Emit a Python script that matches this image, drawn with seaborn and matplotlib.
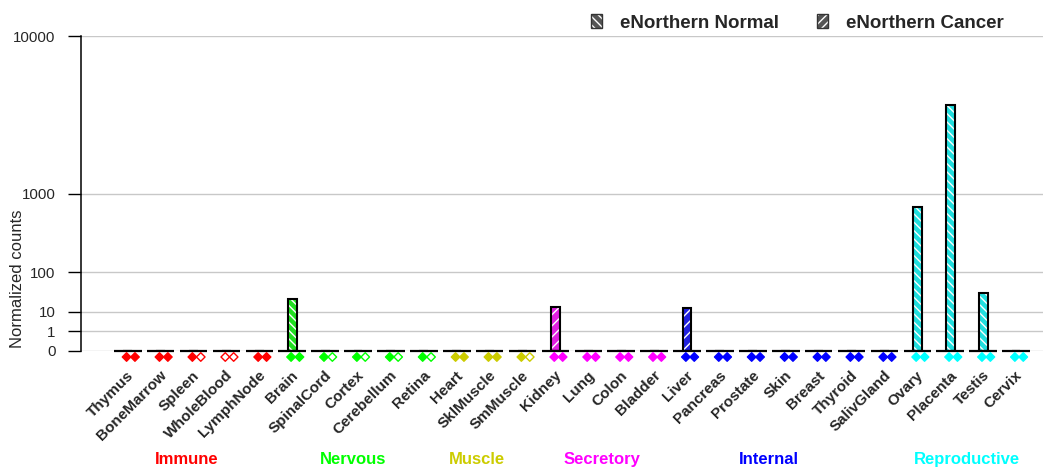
import numpy as np
import matplotlib
matplotlib.use("Agg")
import matplotlib.pyplot as plt
import seaborn as sns
from matplotlib.patches import Patch
from matplotlib.legend_handler import HandlerTuple
from matplotlib import transforms as mtransforms

# ---------------- data ----------------
tissues = ["Thymus", "BoneMarrow", "Spleen", "WholeBlood", "LymphNode",
           "Brain", "SpinalCord", "Cortex", "Cerebellum", "Retina",
           "Heart", "SklMuscle", "SmMuscle",
           "Kidney", "Lung", "Colon", "Bladder",
           "Liver", "Pancreas", "Prostate", "Skin", "Breast", "Thyroid", "SalivGland",
           "Ovary", "Placenta", "Testis", "Cervix"]
group_names = ["Immune", "Nervous", "Muscle", "Secretory", "Internal", "Reproductive"]
group_sizes = [5, 5, 3, 4, 7, 4]
group_colors = ["#FF0000", "#00FF00", "#CCCC00", "#FF00FF", "#0000FF", "#00FFFF"]

normal_counts = [0, 0, 0, 0, 0,
                 26, 0, 0, 0, 0,
                 0, 0, 0,
                 0, 0, 0, 0,
                 0, 0, 0, 0, 0, 0, 0,
                 750, 4400, 36, 0]
cancer_counts = [0, 0, 0, 0, 0,
                 0, 0, 0, 0, 0,
                 0, 0, 0,
                 14, 0, 0, 0,
                 13, 0, 0, 0, 0, 0, 0,
                 0, 0, 0, 0]
# detection markers (1 = filled diamond, 0 = hollow)
normal_detected = [1, 1, 1, 0, 1,
                   1, 1, 1, 1, 1,
                   1, 1, 1,
                   1, 1, 1, 1,
                   1, 1, 1, 1, 1, 1, 1,
                   1, 1, 1, 1]
cancer_detected = [1, 1, 0, 0, 1,
                   1, 0, 0, 0, 0,
                   1, 1, 0,
                   1, 1, 1, 1,
                   1, 1, 1, 1, 1, 1, 1,
                   1, 1, 1, 1]
y_ticks = [0, 1, 10, 100, 1000, 10000]
y_tick_labels = ["0", "1", "10", "100", "1000", "10000"]

# ---------------- layout ----------------
group_label_x = [1.79, 6.85, 10.6, 14.4, 19.49, 25.52]

tissue_colors = []
for c, s in zip(group_colors, group_sizes):
    tissue_colors += [c] * s
palette = dict(zip(tissues, tissue_colors))
n = len(tissues)

sns.set_style("white")
plt.rcParams["font.family"] = ["Liberation Sans", "DejaVu Sans"]
plt.rcParams["hatch.linewidth"] = 1.0
plt.rcParams["hatch.color"] = "white"


def white_hatch(patch):
    patch._hatch_color = (1.0, 1.0, 1.0, 1.0)
    patch.stale = True


fig = plt.figure(figsize=(10.43, 4.68), dpi=100)
ax = fig.add_axes([81 / 1043, (468 - 351) / 468, (1043 - 81) / 1043, 315 / 468])

p = np.log10(2)
def fwd(v):
    v = np.asarray(v, dtype=float)
    return np.sign(v) * np.abs(v) ** p
def inv(v):
    v = np.asarray(v, dtype=float)
    return np.sign(v) * np.abs(v) ** (1 / p)

ax.set_yscale("function", functions=(fwd, inv))

# hatched fills
sns.barplot(x=tissues, y=normal_counts, hue=tissues, palette=palette, order=tissues,
            legend=False, width=0.27, hatch="\\\\\\\\", edgecolor="white", linewidth=0,
            ax=ax, zorder=3)
sns.barplot(x=tissues, y=cancer_counts, hue=tissues, palette=palette, order=tissues,
            legend=False, width=0.27, hatch="///", edgecolor="white", linewidth=0,
            ax=ax, zorder=3)
for patch in list(ax.patches):
    white_hatch(patch)
# outlines
for vals in (normal_counts, cancer_counts):
    sns.barplot(x=tissues, y=vals, order=tissues, width=0.27, facecolor="none",
                edgecolor="black", linewidth=1.5, ax=ax, zorder=4)

# baseline segments per category
for i in range(n):
    ax.hlines(0, i - 0.42, i + 0.42, color="black", lw=1.6, zorder=4, clip_on=False)

# detection diamonds under the axis
trans = mtransforms.blended_transform_factory(ax.transData, ax.transAxes)
xs = np.arange(n)
for flags, off in ((normal_detected, -0.035), (cancer_detected, 0.22)):
    faces = [c if f else "white" for c, f in zip(tissue_colors, flags)]
    ax.scatter(xs + off, np.full(n, -0.019), s=19, marker="D", facecolors=faces,
               edgecolors=tissue_colors, linewidths=1.0, transform=trans,
               clip_on=False, zorder=6)

ax.set_xlim(-1.42, 27.82)
ax.set_ylim(0, 10000)
ax.set_yticks(y_ticks)
ax.set_yticklabels(y_tick_labels, fontsize=10.8)
ax.yaxis.set_minor_locator(matplotlib.ticker.NullLocator())
ax.grid(False)
ax.yaxis.grid(True, color="#C8C8C8", lw=1.0)
ax.set_axisbelow(True)
for s in ("top", "right", "bottom"):
    ax.spines[s].set_visible(False)
ax.spines["left"].set_color("black")
ax.spines["left"].set_linewidth(1.1)
ax.tick_params(axis="y", length=9.6, width=1.0, color="black", direction="out", pad=8.6,
               left=True)
ax.tick_params(axis="x", length=0, pad=16)
ax.set_xticks(range(n))
ax.set_xticklabels(tissues, rotation=45, ha="right", va="center", rotation_mode="anchor",
                   fontsize=11, fontweight="bold")
for lab in ax.get_xticklabels():
    lab.set_transform(lab.get_transform() +
                      mtransforms.ScaledTranslation(4 / 100, 0, fig.dpi_scale_trans))
ax.set_xlabel("")
ax.set_ylabel("Normalized counts", fontsize=12)
ax.yaxis.set_label_coords(-56 / 962, 0.23)

for name, x, c in zip(group_names, group_label_x, group_colors):
    ax.text(x, -0.343, name, transform=trans, ha="center", va="center",
            color=c, fontsize=12, fontweight="bold")

fill_n = Patch(facecolor="#555555", edgecolor="white", hatch="\\\\\\\\", lw=0)
fill_c = Patch(facecolor="#555555", edgecolor="white", hatch="////", lw=0)
white_hatch(fill_n)
white_hatch(fill_c)
handles = [(fill_n, Patch(facecolor="none", edgecolor="#333333", lw=1.0)),
           (fill_c, Patch(facecolor="none", edgecolor="#333333", lw=1.0))]
fig.legend(handles, ["eNorthern Normal", "eNorthern Cancer"], loc="center left",
           bbox_to_anchor=(591 / 1043, 1 - 23 / 468), ncol=2, frameon=False,
           handler_map={tuple: HandlerTuple(ndivide=1, pad=0)},
           handlelength=0.6, handleheight=0.7, handletextpad=0.95, columnspacing=2.0,
           borderpad=0, borderaxespad=0, prop={"size": 13.5, "weight": "bold"})

fig.savefig("out.png", dpi=100)
